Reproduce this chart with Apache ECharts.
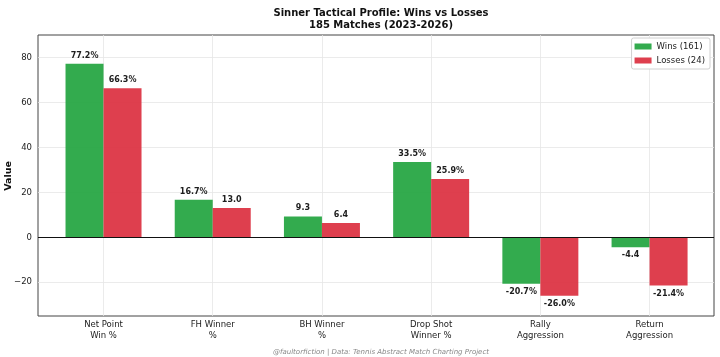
<!DOCTYPE html>
<html><head><meta charset="utf-8">
<script src="https://cdn.jsdelivr.net/npm/echarts@6/dist/echarts.min.js"></script>
<style>html,body{margin:0;padding:0;background:#fff}#c{width:720px;height:357px}</style>
</head><body><div id="c"></div>
<script>
const categories = ['Net Point\nWin %', 'FH Winner\n%', 'BH Winner\n%', 'Drop Shot\nWinner %', 'Rally\nAggression', 'Return\nAggression'];
const winsValues = [77.2, 16.7, 9.3, 33.5, -20.7, -4.4];
const lossesValues = [66.3, 13.0, 6.4, 25.9, -26.0, -21.4];
const winsLabels = ['77.2%', '16.7%', '9.3', '33.5%', '-20.7%', '-4.4'];
const lossesLabels = ['66.3%', '13.0', '6.4', '25.9%', '-26.0%', '-21.4%'];
const yTicks = [-20, 0, 20, 40, 60, 80];
const xTicks = [0, 1, 2, 3, 4, 5];

const FONT = 'DejaVu Sans';
const GRID = {color: '#e6e6e6', width: 0.8, type: 'solid'};
const chart = echarts.init(document.getElementById('c'), null, {renderer: 'canvas'});

function mkData(vals, labels) {
  return vals.map((v, i) => ({
    value: [i, v],
    label: {
      show: true,
      formatter: labels[i],
      position: v >= 0 ? 'top' : 'bottom',
      distance: 4,
      color: '#111', fontWeight: 'bold', fontSize: 8, fontFamily: FONT
    }
  }));
}

const gridLines = yTicks.filter(v => v !== 0).map(v => ({yAxis: v}))
  .concat(xTicks.map(v => ({xAxis: v})));

chart.setOption({
  animation: false,
  backgroundColor: '#fff',
  title: [{
    text: 'Sinner Tactical Profile: Wins vs Losses\n185 Matches (2023-2026)',
    left: 376, textAlign: 'center', top: 3,
    textStyle: {fontFamily: FONT, fontWeight: 'bold', fontSize: 10, color: '#111', lineHeight: 11.5}
  }, {
    text: '@faultorfiction | Data: Tennis Abstract Match Charting Project',
    left: 376, textAlign: 'center', top: 344,
    textStyle: {fontFamily: FONT, fontStyle: 'italic', fontWeight: 'normal', fontSize: 7, color: '#888'}
  }],
  graphic: [{
    type: 'text', x: 9, y: 176, rotation: Math.PI / 2,
    style: {text: 'Value', fontFamily: FONT, fontWeight: 'bold', fontSize: 9.5, fill: '#111', align: 'center', verticalAlign: 'middle'}
  }],
  legend: {
    right: 10, top: 38, orient: 'vertical', itemWidth: 17, itemHeight: 6, itemGap: 5, icon: 'rect',
    padding: [4, 5, 4, 3],
    borderColor: '#d0d0d0', borderWidth: 1, borderRadius: 2, backgroundColor: '#fff',
    textStyle: {fontFamily: FONT, fontSize: 8.5, color: '#222'},
    data: ['Wins (161)', 'Losses (24)']
  },
  grid: {left: 38, right: 6, top: 35, bottom: 41, show: true, borderColor: '#444', borderWidth: 1, containLabel: false, outerBoundsMode: 'none'},
  xAxis: {
    type: 'value', min: -0.6, max: 5.59,
    axisLine: {show: false},
    axisTick: {show: false},
    axisLabel: {customValues: xTicks, formatter: v => categories[Math.round(v)] || '', fontFamily: FONT, fontSize: 8.5, color: '#222', lineHeight: 10.5, margin: 4},
    splitLine: {show: false}
  },
  yAxis: {
    type: 'value', min: -35, max: 90,
    axisLine: {show: false},
    axisTick: {show: false},
    axisLabel: {customValues: yTicks, formatter: v => String(v).replace('-', '\u2212'), fontFamily: FONT, fontSize: 8.5, color: '#222', margin: 6},
    splitLine: {show: false}
  },
  series: [{
    name: 'grid', type: 'line', data: [], z: 0, silent: true,
    markLine: {silent: true, z: 0, symbol: 'none', label: {show: false}, lineStyle: GRID, emphasis: {disabled: true}, data: gridLines}
  }, {
    name: 'Wins (161)', type: 'bar', barWidth: 38, barGap: '0%', z: 2,
    itemStyle: {color: '#28a745', opacity: 0.95},
    data: mkData(winsValues, winsLabels),
    markLine: {silent: true, symbol: 'none', label: {show: false}, lineStyle: {color: '#111', width: 1, type: 'solid'}, data: [{yAxis: 0}]}
  }, {
    name: 'Losses (24)', type: 'bar', barWidth: 38, barGap: '0%', z: 2,
    itemStyle: {color: '#dc3545', opacity: 0.95},
    data: mkData(lossesValues, lossesLabels)
  }]
});
</script>
</body></html>
